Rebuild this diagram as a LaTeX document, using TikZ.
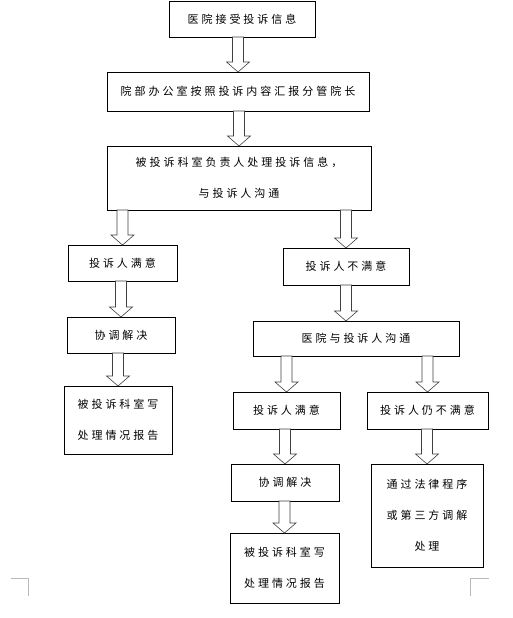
\documentclass[tikz,border=0pt]{standalone}
\usepackage{fontspec}
\newfontfamily\cjk[LetterSpace=27]{Noto Sans CJK SC}
\usetikzlibrary{positioning, calc}

% hollow down arrow from the bottom of one box to the top of the next
\newcommand{\downarr}[2]{%
  \draw[barr] let \p1=(#1), \p2=(#2) in
    (\x2-5.5pt,\y1) -- (\x2-5.5pt,\y2+10pt) -- (\x2-11.5pt,\y2+10pt)
    -- (\x2,\y2) -- (\x2+11.5pt,\y2+10pt) -- (\x2+5.5pt,\y2+10pt)
    -- (\x2+5.5pt,\y1) -- cycle;}

\begin{document}
\begin{tikzpicture}[
  box/.style={draw, line width=0.7pt, align=center, inner sep=0pt,
              outer sep=0pt, font={\cjk\fontsize{11}{31}\selectfont}},
  barr/.style={draw=black!75, fill=white, line width=0.6pt},
  cornermark/.style={draw=gray!55, line width=0.6pt},
]
\useasboundingbox (0,0) rectangle (513pt,-618pt);

%% ---- common trunk ----

\node[box, minimum width=146pt, minimum height=36pt] (recv) at (242pt,-19pt)
    {医院接受投诉信息};

\node[box, minimum width=262pt, minimum height=39pt,
      below=35pt of recv, xshift=-4pt] (office)
    {院部办公室按照投诉内容汇报分管院长};

\node[box, minimum width=264pt, minimum height=64pt,
      below=35pt of office, xshift=1pt] (dept)
    {被投诉科室负责人处理投诉信息，\\与投诉人沟通};

\downarr{recv.south}{office.north}
\downarr{office.south}{dept.north}

%% ---- left branch: satisfied ----

\node[box, minimum width=109pt, minimum height=36pt,
      below=35pt of dept, xshift=-116.5pt] (lsat)
    {投诉人满意};

\node[box, minimum width=108pt, minimum height=36pt,
      below=36pt of lsat, xshift=-1.5pt] (lsolve)
    {协调解决};

\node[box, minimum width=108pt, minimum height=68pt,
      below=33pt of lsolve, xshift=-3pt] (lreport)
    {被投诉科室写\\处理情况报告};

\downarr{dept.south}{lsat.north}
\downarr{lsat.south}{lsolve.north}
\downarr{lsolve.south}{lreport.north}

%% ---- right branch: not satisfied ----

\node[box, minimum width=126pt, minimum height=37pt,
      below=38pt of dept, xshift=107pt] (rnot)
    {投诉人不满意};

\node[box, minimum width=206pt, minimum height=35pt,
      below=36pt of rnot, xshift=10pt] (hosp)
    {医院与投诉人沟通};

\node[box, minimum width=107pt, minimum height=37pt,
      below=36pt of hosp, xshift=-69.5pt] (rsat)
    {投诉人满意};

\node[box, minimum width=121pt, minimum height=37pt,
      right=27pt of rsat] (rstill)
    {投诉人仍不满意};

\node[box, minimum width=108pt, minimum height=37pt,
      below=35pt of rsat, xshift=-1.5pt] (rsolve)
    {协调解决};

\node[box, minimum width=109pt, minimum height=70pt,
      below=32pt of rsolve, xshift=-0.5pt] (rreport)
    {被投诉科室写\\处理情况报告};

\node[box, minimum width=112pt, minimum height=103pt,
      below=35pt of rstill, xshift=-0.5pt] (legal)
    {通过法律程序\\或第三方调解\\处理};

\downarr{dept.south}{rnot.north}
\downarr{rnot.south}{hosp.north -| rnot.south}
\downarr{hosp.south}{rsat.north}
\downarr{hosp.south}{rstill.north}
\downarr{rsat.south}{rsolve.north}
\downarr{rsolve.south}{rreport.north}
\downarr{rstill.south}{legal.north}

%% ---- page corner marks ----
\draw[cornermark] (11pt,-578pt) -- (28pt,-578pt) -- (28pt,-596pt);
\draw[cornermark] (470pt,-596pt) -- (470pt,-578pt) -- (489pt,-578pt);

\end{tikzpicture}
\end{document}
